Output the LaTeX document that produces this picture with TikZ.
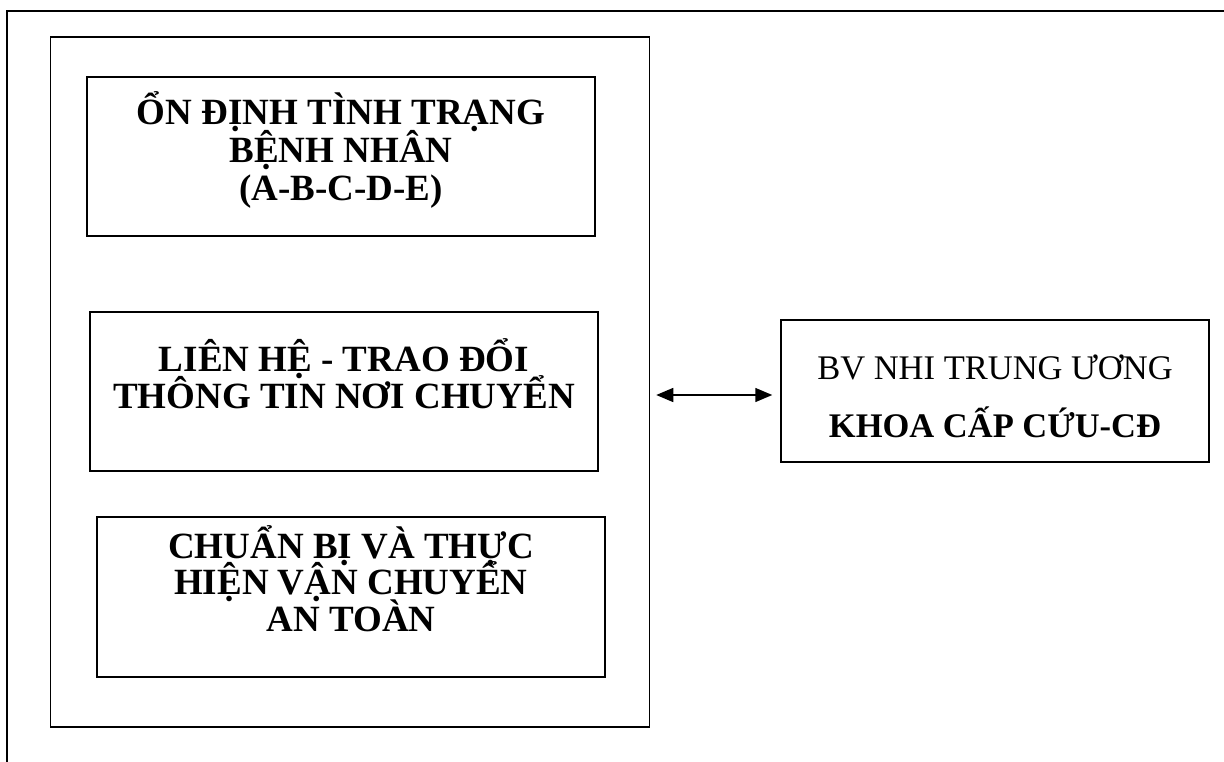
\documentclass[tikz,border=0pt]{standalone}
\usepackage{fontspec}
\setmainfont{Liberation Serif}
\usetikzlibrary{arrows.meta, positioning}

\tikzset{
    stepbox/.style={draw, line width=1.5pt, align=center, inner sep=0pt,
        minimum width=508pt, font=\fontsize{37}{37}\selectfont\bfseries},
}

\begin{document}
\begin{tikzpicture}[x=1pt, y=-1pt]
    \useasboundingbox (0,0) rectangle (1224,762);
    % Frame
    \draw[line width=2.5pt] (1226,11) -- (7,11) -- (7,764);

    % Nodes
    \node[draw, line width=1.5pt, minimum width=599pt, minimum height=690pt] (outer) at (350,382) {};
    \node[stepbox, minimum height=159pt, font=\fontsize{37}{38}\selectfont\bfseries] (stable) at (341,156.5)
        {\rule{0pt}{13pt}\smash{ỔN ĐỊNH TÌNH TRẠNG}\\\smash{BỆNH NHÂN}\\\smash{(A-B-C-D-E)}};
    \node[stepbox, minimum height=159pt] (contact) at (344,391.5)
        {\smash{LIÊN HỆ - TRAO ĐỔI}\\\smash{THÔNG TIN NƠI CHUYỂN}\rule[-4pt]{0pt}{4pt}};
    \node[stepbox, minimum height=160pt, font=\fontsize{37}{36.5}\selectfont\bfseries] (transport) at (351,597)
        {\smash{CHUẨN BỊ VÀ THỰC}\\\smash{HIỆN VẬN CHUYỂN}\\\smash{AN TOÀN}\rule[-5pt]{0pt}{5pt}};
    \node[draw, line width=1.5pt, align=center, inner sep=0pt, minimum width=428pt, minimum height=142pt,
        font=\fontsize{34.5}{58}\selectfont] (bv) at (995,391)
        {\rule{0pt}{34pt}\smash{BV NHI TRUNG ƯƠNG}\\\smash{\textbf{KHOA CẤP CỨU-CĐ}}};

    % Connections
    \draw [line width=1.5pt, arrows = {Triangle[length=17pt, width=14pt]-Triangle[length=17pt, width=14pt]},
        shorten <=6pt, shorten >=8pt] ([yshift=-4pt]outer.east |- bv.west) to ([yshift=-4pt]bv.west);
\end{tikzpicture}
\end{document}
